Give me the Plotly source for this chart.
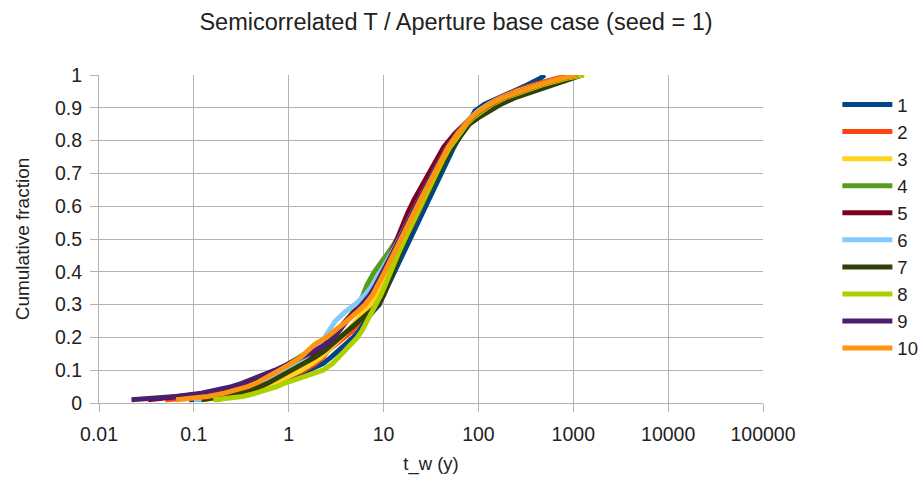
import plotly.graph_objects as go

# Cumulative fraction levels (shared by all series)
frac = [0.01, 0.015, 0.02, 0.03, 0.04, 0.05, 0.06, 0.08, 0.10, 0.12, 0.14, 0.16, 0.18, 0.20,
        0.22, 0.25, 0.28, 0.30, 0.33, 0.36, 0.40, 0.43, 0.46, 0.50, 0.54, 0.58, 0.62, 0.66,
        0.70, 0.74, 0.78, 0.82, 0.85, 0.87, 0.89, 0.91, 0.93, 0.95, 0.97, 0.99, 1.00]

# t_w (y) for each realisation
tw_1 = [0.089, 0.17, 0.25, 0.38, 0.52, 0.65, 0.8, 1.15, 1.7, 2.3, 2.8, 3.4, 4.0, 4.8,
        5.5, 6.4, 7.8, 9.0, 10.0, 11.2, 13.0, 14.5, 16.5, 19.5, 22, 26, 30, 35,
        41, 47, 55, 66, 78, 84, 92, 115, 165, 230, 330, 450, 500]
tw_2 = [0.05, 0.085, 0.15, 0.28, 0.42, 0.55, 0.68, 1.0, 1.45, 1.9, 2.3, 2.6, 3.2, 4.0,
        4.7, 5.6, 7.0, 7.9, 9.0, 10.2, 11.6, 13.0, 14.6, 17, 19.5, 23, 26.5, 31,
        37, 43, 51, 62, 74, 84, 100, 125, 165, 240, 380, 680, 1000]
tw_3 = [0.13, 0.17, 0.21, 0.3, 0.42, 0.55, 0.7, 1.0, 1.35, 1.75, 2.2, 2.6, 3.1, 3.6,
        4.2, 5.1, 6.3, 7.2, 8.4, 9.5, 11.0, 12.4, 13.8, 16, 18.5, 21.5, 25, 29,
        34, 40, 48, 59, 71, 84, 100, 128, 175, 260, 420, 750, 1150]
tw_4 = [0.17, 0.22, 0.27, 0.34, 0.42, 0.5, 0.56, 0.66, 0.82, 1.0, 1.3, 1.65, 2.2, 2.9,
        3.3, 4.0, 4.9, 5.5, 6.1, 6.7, 8.0, 9.6, 11.3, 14, 16.5, 19.5, 23, 27.5,
        32, 38, 47, 60, 73, 85, 105, 135, 185, 280, 450, 800, 1280]
tw_5 = [0.033, 0.05, 0.075, 0.14, 0.22, 0.3, 0.4, 0.65, 0.95, 1.3, 1.65, 2.0, 2.4, 2.8,
        3.2, 4.0, 5.0, 5.8, 6.9, 8.0, 9.6, 11, 12.2, 13.8, 15.8, 18, 21, 25,
        29.5, 35, 43, 56, 70, 84, 102, 130, 180, 270, 440, 800, 1200]
tw_6 = [0.1, 0.14, 0.18, 0.26, 0.35, 0.45, 0.55, 0.75, 0.95, 1.2, 1.5, 1.8, 2.1, 2.4,
        2.65, 3.1, 4.0, 5.0, 6.4, 7.7, 9.3, 10.8, 12.3, 14.6, 17, 20, 23.5, 28,
        33, 39, 47, 59, 71, 83, 100, 128, 175, 265, 430, 780, 1200]
tw_7 = [0.12, 0.16, 0.2, 0.3, 0.4, 0.5, 0.6, 0.8, 1.1, 1.5, 1.9, 2.4, 2.9, 3.5,
        4.2, 5.5, 7.3, 8.8, 10.1, 11.2, 12.5, 13.8, 15, 17.2, 19.8, 23, 27, 31.5,
        37, 44, 53, 66, 80, 100, 130, 170, 240, 380, 600, 950, 1250]
tw_8 = [0.16, 0.25, 0.33, 0.45, 0.6, 0.75, 0.9, 1.4, 2.3, 2.9, 3.4, 4.0, 4.6, 5.3,
        5.9, 6.7, 7.7, 8.4, 9.4, 10.4, 11.8, 13.1, 14.5, 16.8, 19.5, 22.5, 26, 30.5,
        36, 42, 50, 62, 75, 88, 108, 138, 190, 290, 470, 850, 1300]
tw_9 = [0.022, 0.04, 0.065, 0.12, 0.18, 0.25, 0.32, 0.5, 0.72, 1.0, 1.4, 1.9, 2.5, 3.0,
        3.4, 4.1, 5.2, 6.0, 7.2, 8.3, 9.9, 11.2, 12.6, 14.8, 17.2, 20, 23.5, 28,
        33, 39, 47, 59, 72, 85, 104, 132, 180, 270, 430, 760, 1100]
tw_10 = [0.065, 0.1, 0.14, 0.21, 0.29, 0.37, 0.45, 0.62, 0.8, 1.05, 1.35, 1.6, 1.9, 2.5,
         3.1, 4.1, 5.4, 6.4, 7.7, 8.8, 10.3, 11.6, 13, 15.3, 17.8, 20.8, 24.5, 29,
         34, 40, 48, 60, 72, 84, 102, 130, 178, 270, 430, 760, 1100]

series_names = ["1", "2", "3", "4", "5", "6", "7", "8", "9", "10"]
series_values = [tw_1, tw_2, tw_3, tw_4, tw_5, tw_6, tw_7, tw_8, tw_9, tw_10]
colors = ["#004586", "#ff420e", "#ffd320", "#579d1c", "#7e0021",
          "#83caff", "#314004", "#aecf00", "#4b1f6f", "#ff950e"]

x_tickvals = [0.01, 0.1, 1, 10, 100, 1000, 10000, 100000]
x_ticktext = ["0.01", "0.1", "1", "10", "100", "1000", "10000", "100000"]
y_tickvals = [0, 0.1, 0.2, 0.3, 0.4, 0.5, 0.6, 0.7, 0.8, 0.9, 1]
y_ticktext = ["0", "0.1", "0.2", "0.3", "0.4", "0.5", "0.6", "0.7", "0.8", "0.9", "1"]

FONT = "Liberation Sans"
GRID = "#b3b3b3"
TXT = "#222222"

fig = go.Figure()
for name, vals, col in zip(series_names, series_values, colors):
    fig.add_trace(go.Scatter(x=vals, y=frac, mode="lines", name=name, legendgroup=name,
                             line=dict(color=col, width=5)))

fig.update_layout(
    width=924, height=488,
    margin=dict(l=99, r=161, t=75, b=85, autoexpand=False),
    paper_bgcolor="white", plot_bgcolor="white",
    font=dict(family=FONT, color=TXT),
    title=dict(text="Semicorrelated T / Aperture base case (seed = 1)",
               font=dict(size=23.5, family=FONT, color=TXT),
               xref="container", x=0.4935, xanchor="center",
               yref="container", y=1 - 22 / 488, yanchor="middle"),
    showlegend=True,
    legend=dict(x=1.112, xanchor="left", y=0.538, yanchor="middle",
                font=dict(size=18.5, family=FONT, color=TXT),
                tracegroupgap=0.01, itemwidth=50, bgcolor="rgba(0,0,0,0)"),
    xaxis=dict(type="log", range=[-2, 5], tickvals=x_tickvals, ticktext=x_ticktext,
               showgrid=True, gridcolor=GRID, gridwidth=1,
               showline=True, linecolor=GRID, linewidth=1,
               ticks="outside", ticklen=8, tickcolor=GRID,
               tickfont=dict(size=19.5, family=FONT, color=TXT), ticklabelstandoff=6,
               zeroline=False, automargin=False,
               title=dict(text="t_w (y)", font=dict(size=18.5, family=FONT, color=TXT), standoff=12)),
    yaxis=dict(range=[0, 1], tickvals=y_tickvals, ticktext=y_ticktext,
               showgrid=True, gridcolor=GRID, gridwidth=1,
               showline=True, linecolor=GRID, linewidth=1,
               ticks="outside", ticklen=8, tickcolor=GRID,
               tickfont=dict(size=19.5, family=FONT, color=TXT), ticklabelstandoff=4,
               zeroline=False, automargin=False,
               title=dict(text="Cumulative fraction", font=dict(size=19, family=FONT, color=TXT), standoff=20)),
)

fig.write_html("out.html")
